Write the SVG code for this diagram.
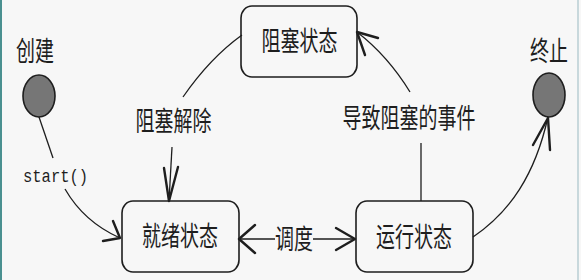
<svg xmlns="http://www.w3.org/2000/svg" width="581" height="280" viewBox="0 0 581 280">
<style>
.bg{fill:#f7f7f7}
.box{fill:#f7f7f7;stroke:#1e1e1e;stroke-width:1.6}
.dot{fill:#767676;stroke:#1e1e1e;stroke-width:1.6}
.cjk{font-family:"Noto Sans CJK SC","Noto Sans",sans-serif;font-size:19px;fill:#1e1e1e;text-anchor:middle}
.mono{font-family:"Liberation Mono","DejaVu Sans Mono",monospace;font-size:15.5px;fill:#1e1e1e}
.ln{fill:none;stroke:#1e1e1e;stroke-width:1.3}
.ah{fill:none;stroke:#1e1e1e;stroke-width:2.4;stroke-linecap:round;stroke-linejoin:round}
</style>
<rect class="bg" x="0" y="0" width="581" height="280"/>
<rect x="0" y="0" width="2" height="280" fill="#4a9090"/>
<rect x="577" y="0" width="2" height="280" fill="#c8d8dc"/>

<g id="node-create">
<ellipse class="dot" cx="39" cy="96" rx="16" ry="21"/>
<text class="cjk" transform="translate(35,61) scale(1,1.45)">创建</text>
</g>
<g id="node-end">
<ellipse class="dot" cx="549" cy="95" rx="16" ry="22"/>
<text class="cjk" transform="translate(549,61) scale(1,1.45)">终止</text>
</g>
<g id="node-blocked">
<rect class="box" x="241" y="6" width="116" height="71" rx="11" ry="12"/>
<text class="cjk" transform="translate(299.5,51) scale(1,1.45)">阻塞状态</text>
</g>
<g id="node-ready">
<rect class="box" x="122" y="201" width="117" height="71" rx="11" ry="12"/>
<text class="cjk" transform="translate(180,246) scale(1,1.45)">就绪状态</text>
</g>
<g id="node-running">
<rect class="box" x="356" y="201" width="117" height="71" rx="11" ry="12"/>
<text class="cjk" transform="translate(414,247) scale(1,1.45)">运行状态</text>
</g>

<g id="connectors">
<!-- create -> ready -->
<path class="ln" d="M39,117 L53,158"/>
<path class="ln" d="M65,189 Q84,222 120,238"/>
<path class="ah" d="M113,221 L120,238 L103,241"/>
<text class="mono" transform="translate(23,182) scale(1,1.2)">start()</text>
<!-- blocked -> ready -->
<path class="ln" d="M242,35 Q210,58 183,97"/>
<path class="ln" d="M172,147 L169,201"/>
<path class="ah" d="M164,168 L169,201 L178,167"/>
<text class="cjk" transform="translate(173.5,131) scale(1,1.45)">阻塞解除</text>
<!-- running -> blocked -->
<path class="ln" d="M421,201 L421,143"/>
<path class="ln" d="M410,92 Q388,56 357,32"/>
<path class="ah" d="M378,38 L357,32 L365,55"/>
<text class="cjk" transform="translate(409,128) scale(1,1.45)">导致阻塞的事件</text>
<!-- running -> end -->
<path class="ln" d="M473,237 C510,212 535,175 548,117"/>
<path class="ah" d="M533,145 L548,118 L550,150"/>
<!-- ready <-> running -->
<path class="ln" d="M239,239 L275,239"/>
<path class="ln" d="M313,239 L355,239"/>
<path class="ah" d="M255,225 L239,239 L255,253"/>
<path class="ah" d="M336,228 L355,239 L336,250"/>
<text class="cjk" transform="translate(294,249) scale(1,1.45)">调度</text>
</g>
</svg>
